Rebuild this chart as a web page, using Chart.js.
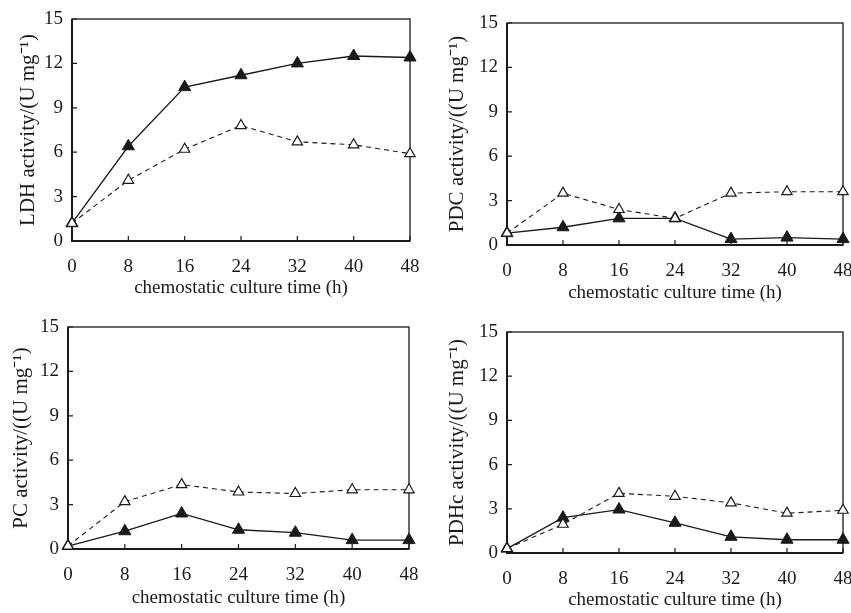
<!DOCTYPE html>
<html>
<head>
<meta charset="utf-8">
<script src="https://cdn.jsdelivr.net/npm/chart.js@4.4.1/dist/chart.umd.min.js"></script>
<style>
  html, body { margin: 0; padding: 0; background: #fff; }
  body { width: 851px; height: 613px; position: relative; overflow: hidden; }
  .panel { position: absolute; }
</style>
</head>
<body>
<div class="panel" id="p1" style="left:0;top:0;width:425px;height:306px"><canvas id="c1"></canvas></div>
<div class="panel" id="p2" style="left:425px;top:0;width:426px;height:306px"><canvas id="c2"></canvas></div>
<div class="panel" id="p3" style="left:0;top:306px;width:425px;height:307px"><canvas id="c3"></canvas></div>
<div class="panel" id="p4" style="left:425px;top:306px;width:426px;height:307px"><canvas id="c4"></canvas></div>
<script>
// culture time (h)
const times = [0, 8, 16, 24, 32, 40, 48];
const yTicks = [0, 3, 6, 9, 12, 15];

// solid line, filled triangles
const ldhSolid = [1.2, 6.4, 10.4, 11.2, 12.0, 12.5, 12.4];
// dashed line, open triangles
const ldhDashed = [1.2, 4.1, 6.2, 7.8, 6.7, 6.5, 5.9];

const pdcSolid = [0.8, 1.2, 1.8, 1.8, 0.4, 0.5, 0.4];
const pdcDashed = [0.8, 3.5, 2.4, 1.8, 3.5, 3.6, 3.6];

const pcSolid = [0.2, 1.2, 2.4, 1.3, 1.1, 0.6, 0.6];
const pcDashed = [0.2, 3.2, 4.35, 3.85, 3.75, 4.0, 4.0];

const pdhSolid = [0.3, 2.4, 2.95, 2.05, 1.1, 0.9, 0.9];
const pdhDashed = [0.3, 1.95, 4.05, 3.85, 3.4, 2.7, 2.9];

const FONT = "'Liberation Serif', 'Times New Roman', serif";
const INK = '#1a1a1a';
const X_TITLE_SIZE = 19;
const Y_TITLE_SIZE = 21;

// box round the plot area and short ticks pointing inward
const framePlugin = {
    id: 'frame',
    beforeDatasetsDraw(chart) {
        const ctx = chart.ctx;
        const a = chart.chartArea;
        const xs = chart.scales.x;
        const ys = chart.scales.y;
        ctx.save();
        ctx.strokeStyle = INK;
        ctx.lineWidth = 1.3;
        ctx.strokeRect(a.left, a.top, a.right - a.left, a.bottom - a.top);
        ctx.lineWidth = 2;
        ctx.beginPath();
        ctx.moveTo(a.left, a.top);
        ctx.lineTo(a.left, a.bottom);
        ctx.lineTo(a.right, a.bottom);
        ctx.stroke();
        ctx.lineWidth = 1.2;
        ctx.beginPath();
        times.forEach(t => {
            const px = xs.getPixelForValue(t);
            ctx.moveTo(px, a.bottom);
            ctx.lineTo(px, a.bottom - 5);
        });
        yTicks.forEach(v => {
            const py = ys.getPixelForValue(v);
            ctx.moveTo(a.left, py);
            ctx.lineTo(a.left + 5, py);
        });
        ctx.stroke();
        ctx.restore();
    }
};

function toPoints(vals) {
    return times.map((t, i) => ({ x: t, y: vals[i] }));
}

// g: page geometry of the panel (canvas box, plot area, title centres)
function createPanel(id, g, yTitle, solid, dashed) {
    const padLeft = g.ytx - g.cx - (4 + Y_TITLE_SIZE * 0.6);
    const padBottom = g.cy + g.ch - g.xty - (4 + X_TITLE_SIZE * 0.6);
    const yWidth = g.L - g.cx - padLeft;
    const xHeight = (g.cy + g.ch - padBottom) - g.B;

    const datasets = [
        {
            data: toPoints(dashed),
            borderColor: INK,
            borderWidth: 1.1,
            borderDash: [5, 4],
            pointStyle: 'triangle',
            pointRadius: 6,
            pointBackgroundColor: '#fff',
            pointBorderColor: INK,
            pointBorderWidth: 1.2,
            clip: false
        },
        {
            data: toPoints(solid),
            borderColor: INK,
            borderWidth: 1.3,
            pointStyle: 'triangle',
            pointRadius: 7,
            pointBackgroundColor: INK,
            pointBorderColor: INK,
            pointBorderWidth: 1,
            clip: false
        }
    ];

    return new Chart(document.getElementById(id), {
        type: 'line',
        data: { datasets: datasets },
        options: {
            responsive: true,
            maintainAspectRatio: false,
            animation: false,
            layout: {
                padding: {
                    left: padLeft,
                    right: g.cx + g.cw - g.R,
                    top: g.T - g.cy,
                    bottom: padBottom
                }
            },
            plugins: {
                legend: { display: false },
                tooltip: { enabled: false }
            },
            scales: {
                x: {
                    type: 'linear',
                    min: 0,
                    max: 48,
                    afterBuildTicks: s => { s.ticks = times.map(v => ({ value: v })); },
                    afterFit: s => {
                        s.height = xHeight;
                        s.paddingLeft = 0;
                        s.paddingRight = 0;
                    },
                    grid: { display: false, drawTicks: false },
                    border: { display: false },
                    ticks: {
                        color: INK,
                        padding: 15,
                        maxRotation: 0,
                        font: { family: FONT, size: 19 }
                    },
                    title: {
                        display: true,
                        text: 'chemostatic culture time (h)',
                        color: INK,
                        padding: { top: 4, bottom: 4 },
                        font: { family: FONT, size: X_TITLE_SIZE }
                    }
                },
                y: {
                    min: 0,
                    max: 15,
                    afterBuildTicks: s => { s.ticks = yTicks.map(v => ({ value: v })); },
                    afterFit: s => {
                        s.width = yWidth;
                        s.paddingTop = 0;
                        s.paddingBottom = 0;
                    },
                    grid: { display: false, drawTicks: false },
                    border: { display: false },
                    ticks: {
                        color: INK,
                        padding: 9,
                        font: { family: FONT, size: 19 }
                    },
                    title: {
                        display: true,
                        text: yTitle,
                        color: INK,
                        padding: { top: 4, bottom: 4 },
                        font: { family: FONT, size: Y_TITLE_SIZE }
                    }
                }
            }
        },
        plugins: [framePlugin]
    });
}

createPanel('c1', { cx: 0, cy: 0, cw: 425, ch: 306, L: 72, R: 410, T: 19, B: 241, ytx: 28, xty: 288 },
    'LDH activity/(U mg\u207B\u00B9)', ldhSolid, ldhDashed);
createPanel('c2', { cx: 425, cy: 0, cw: 426, ch: 306, L: 507, R: 844, T: 23, B: 245, ytx: 457, xty: 293 },
    'PDC activity/((U mg\u207B\u00B9)', pdcSolid, pdcDashed);
createPanel('c3', { cx: 0, cy: 306, cw: 425, ch: 307, L: 68, R: 409, T: 327, B: 549, ytx: 21, xty: 598 },
    'PC activity/((U mg\u207B\u00B9)', pcSolid, pcDashed);
createPanel('c4', { cx: 425, cy: 306, cw: 426, ch: 307, L: 507, R: 844, T: 332, B: 553, ytx: 457, xty: 600 },
    'PDHc activity/((U mg\u207B\u00B9)', pdhSolid, pdhDashed);
</script>
</body>
</html>
